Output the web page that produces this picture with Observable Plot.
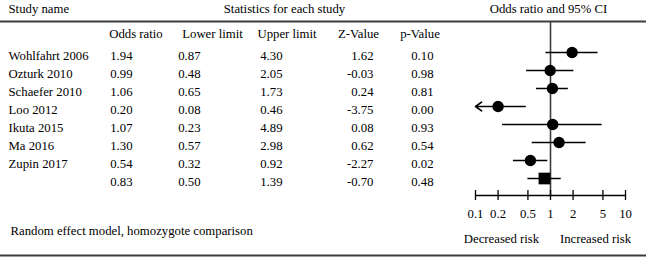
<!DOCTYPE html>
<html>
<head>
<meta charset="utf-8">
<script src="https://cdn.jsdelivr.net/npm/d3@7"></script>
<script src="https://cdn.jsdelivr.net/npm/@observablehq/plot@0.6"></script>
<style>
  html, body { margin: 0; padding: 0; background: #fff; }
  #chart { position: relative; width: 646px; height: 258px; }
  #chart svg { position: absolute; left: 0; top: 0; }
</style>
</head>
<body>
<div id="chart"></div>
<script>
// ---- data ----
const studies = ["Wohlfahrt 2006", "Ozturk 2010", "Schaefer 2010", "Loo 2012", "Ikuta 2015", "Ma 2016", "Zupin 2017"];
const oddsRatio = [1.94, 0.99, 1.06, 0.20, 1.07, 1.30, 0.54];
const lowerLimit = [0.87, 0.48, 0.65, 0.08, 0.23, 0.57, 0.32];
const upperLimit = [4.30, 2.05, 1.73, 0.46, 4.89, 2.98, 0.92];
const zValue = [1.62, -0.03, 0.24, -3.75, 0.08, 0.62, -2.27];
const pValue = [0.10, 0.98, 0.81, 0.00, 0.93, 0.54, 0.02];
const summaryLabel = "Combined";
const summaryOR = 0.83, summaryLower = 0.50, summaryUpper = 1.39, summaryZ = -0.70, summaryP = 0.48;
const tickValues = [0.1, 0.2, 0.5, 1, 2, 5, 10];
const tickLabels = ["0.1", "0.2", "0.5", "1", "2", "5", "10"];
const columnHeaders = ["Odds ratio", "Lower limit", "Upper limit", "Z-Value", "p-Value"];
const groupHeaders = ["Study name", "Statistics for each study", "Odds ratio and 95% CI"];
const caption = "Random effect model, homozygote comparison";
const directionLabels = ["Decreased risk", "Increased risk"];

// ---- build rows ----
const rows = studies.map((name, i) => ({
  key: name, name, or: oddsRatio[i], lo: lowerLimit[i], hi: upperLimit[i], z: zValue[i], p: pValue[i], summary: false
}));
rows.push({key: summaryLabel, name: "", or: summaryOR, lo: summaryLower, hi: summaryUpper, z: summaryZ, p: summaryP, summary: true});
const keys = rows.map(d => d.key);

const W = 646, H = 258;
const font = "'Liberation Serif', 'Times New Roman', serif";
const fs = 12.75;
const yScale = {type: "point", domain: keys, range: [51, 178], padding: 0};
const fmt = v => v.toFixed(2);

// column layout (right edges of the value columns, centres of the headers)
const valueCols = [
  {field: "or", right: 132, head: 135.5},
  {field: "lo", right: 200, head: 212},
  {field: "hi", right: 282, head: 286.5},
  {field: "z",  right: 373, head: 358},
  {field: "p",  right: 433, head: 419.5}
];

const hdr = (label, x, dy, anchor) =>
  Plot.text([label], {text: d => d, frameAnchor: "top-left", dx: x, dy, textAnchor: anchor, lineAnchor: "middle"});

const tableMarks = [
  Plot.frame({anchor: "top", stroke: "#3c3c3c", strokeWidth: 2}),
  Plot.frame({anchor: "bottom", stroke: "#3c3c3c", strokeWidth: 2}),
  // group headers
  hdr(groupHeaders[0], 8, -13, "start"),
  hdr(groupHeaders[1], 284, -13, "middle"),
  hdr(groupHeaders[2], 548, -13, "middle"),
  // column headers
  ...valueCols.map((c, i) => hdr(columnHeaders[i], c.head, 12, "middle")),
  // study names
  Plot.text(rows, {y: "key", text: "name", frameAnchor: "left", dx: 8, dy: 3, textAnchor: "start", lineAnchor: "middle"}),
  // numeric columns
  ...valueCols.map(c => Plot.text(rows, {y: "key", text: d => fmt(d[c.field]), frameAnchor: "left", dx: c.right, dy: 3, textAnchor: "end", lineAnchor: "middle"})),
  // caption
  Plot.text([caption], {text: d => d, frameAnchor: "bottom-left", dx: 10, dy: -25, textAnchor: "start", lineAnchor: "middle"})
];

const table = Plot.plot({
  width: W, height: H,
  marginLeft: 0, marginRight: 0, marginTop: 21, marginBottom: 3,
  style: {fontFamily: font, fontSize: fs + "px", color: "#000", background: "transparent"},
  y: yScale,
  axis: null,
  marks: tableMarks
});

const studyRows = rows.filter(d => !d.summary);
const arrowRows = rows.filter(d => d.lo < tickValues[0]);
const lineRows = rows.filter(d => d.lo >= tickValues[0]);

const forest = Plot.plot({
  width: W, height: H,
  marginLeft: 475, marginRight: 21, marginTop: 21, marginBottom: 63,
  style: {fontFamily: font, fontSize: fs + "px", color: "#000", background: "transparent"},
  x: {type: "log", domain: [0.1, 10], clamp: true},
  y: {...yScale, axis: null},
  marks: [
    Plot.ruleX([1], {stroke: "#3c3c3c", strokeWidth: 1.6}),
    Plot.frame({anchor: "bottom", stroke: "#000", strokeWidth: 1.3}),
    Plot.axisX(tickValues, {anchor: "bottom", tickSize: 10, dy: -5, tickFormat: () => "", label: null, stroke: "#000", strokeWidth: 1.3}),
    Plot.text(tickValues, {x: d => d, text: (d, i) => tickLabels[i], frameAnchor: "bottom", dy: 18, lineAnchor: "middle", textAnchor: "middle"}),
    Plot.ruleY(lineRows, {y: "key", x1: "lo", x2: "hi", stroke: "#000", strokeWidth: 1.6}),
    Plot.arrow(arrowRows, {y1: "key", y2: "key", x1: "hi", x2: "lo", stroke: "#000", strokeWidth: 1.6, headLength: 7, headAngle: 70}),
    Plot.dot(studyRows, {x: "or", y: "key", r: 5.7, fill: "#000", stroke: null}),
    Plot.dot(rows.filter(d => d.summary), {x: "or", y: "key", symbol: "square", r: 6.6, fill: "#000", stroke: null}),
    Plot.text([directionLabels[0]], {text: d => d, frameAnchor: "bottom-left", dx: 26, dy: 43, textAnchor: "middle", lineAnchor: "middle"}),
    Plot.text([directionLabels[1]], {text: d => d, frameAnchor: "bottom-left", dx: 120, dy: 43, textAnchor: "middle", lineAnchor: "middle"})
  ]
});

const el = document.getElementById("chart");
el.appendChild(table);
el.appendChild(forest);
</script>
</body>
</html>
